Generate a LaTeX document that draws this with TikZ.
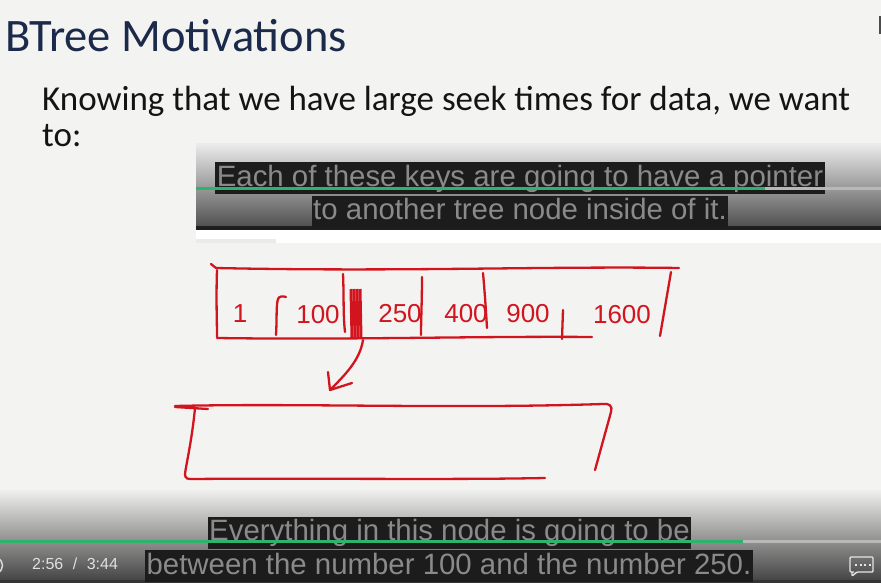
\documentclass[tikz,border=0pt]{standalone}
\usepackage{fontspec}
\setmainfont{Carlito}
\newfontfamily\subfont{Liberation Sans}
\definecolor{bg}{HTML}{F3F4F2}
\definecolor{titleblue}{HTML}{1B2A4A}
\definecolor{ink}{HTML}{D2141E}
\definecolor{subbg}{HTML}{1C1C1C}
\definecolor{subfg}{HTML}{8A8A8A}
\definecolor{ytgreen}{HTML}{2DB36C}
\definecolor{ytgray}{HTML}{B8B8B8}
\begin{document}
\begin{tikzpicture}[x=1pt,y=-1pt,
  sub/.style={fill=subbg, text=subfg, inner xsep=1.5pt, inner ysep=0pt,
    text height=24pt, text depth=8pt, font=\subfont\fontsize{29.4}{30}\selectfont},
  pen/.style={draw=ink, line width=2.3pt, line cap=round, line join=round},
  digits/.style={text=ink, inner sep=0pt, font=\subfont\fontsize{26}{26}\selectfont}]
\useasboundingbox (0,0) rectangle (881,583);
\fill[bg] (0,0) rectangle (881,583);
% title and body
\node[anchor=base west, inner sep=0pt, text=titleblue, font=\fontsize{46.5}{46.5}\selectfont] (title) at (5,52) {BTree Motivations};
\node[anchor=base west, inner sep=0pt, text=black!92, font=\fontsize{35}{37}\selectfont] (body1) at (42,111) {Knowing that we have large seek times for data, we want};
\node[anchor=base west, inner sep=0pt, text=black!92, font=\fontsize{35}{37}\selectfont] (body2) at (42,147) {to:};
\fill[black!70] (879,16) rectangle (881,34);
% top overlay (picture in picture)
\shade[top color=black!8, bottom color=black!68] (196,144) rectangle (881,226);
\fill[black!88] (196,226) rectangle (881,230);
\fill[white] (196,230) rectangle (881,243);
\fill[black!8] (196,239) rectangle (276,243);
\node[sub] (s1) at (520,178) {Each of these keys are going to have a pointer};
\node[sub] (s2) at (520,211.5) {to another tree node inside of it.};
\fill[ytgreen] (196,187) rectangle (765,190);
\fill[ytgray] (765,187) rectangle (881,190);
% handwritten top node
\draw[pen] (211,264) -- (216,268);
\draw[pen] (216,268) .. controls (400,272) and (550,266) .. (679,268);
\draw[pen] (217,270) .. controls (216,300) and (217,320) .. (217,337);
\draw[pen] (217,338) .. controls (350,340) and (480,336) .. (592,337);
\draw[pen] (671,272) -- (660,336);
\draw[pen] (276,335) .. controls (277,320) and (276,305) .. (278,299) .. controls (279,296) and (283,296) .. (286,297);
\draw[pen] (343,274) .. controls (344,295) and (343,315) .. (345,332);
\draw[pen] (422,277) .. controls (422,300) and (421,320) .. (421,335);
\draw[pen] (483,273) .. controls (485,295) and (486,312) .. (487,328);
\draw[pen] (563,310) -- (562,339);
\foreach \xx in {351,354,357,360}
  \draw[draw=ink, line width=3pt] (\xx,289) -- (\xx+1,338);
\node[digits] (k1) at (240,314) {1};
\node[digits] (k2) at (318,315) {100};
\node[digits] (k3) at (400,314) {250};
\node[digits] (k4) at (466,314) {400};
\node[digits] (k5) at (528,314) {900};
\node[digits] (k6) at (622,315) {1600};
% arrow
\coordinate (astart) at (363,340);
\coordinate (atip) at (330,390);
\draw[pen] (astart) .. controls (360,360) and (345,375) .. (atip);
\draw[pen] (328,372) -- (atip) -- (352,383);
% lower node
\draw[pen] (175,407) -- (208,409);
\draw[pen] (175,406) .. controls (300,403) and (450,409) .. (603,404) .. controls (609,403) and (613,406) .. (611,412) -- (595,470);
\draw[pen] (195,408) .. controls (192,440) and (186,465) .. (185,474) .. controls (185,479) and (188,479) .. (192,479) .. controls (300,478) and (450,480) .. (545,478);
% bottom player bar
\shade[top color=bg, bottom color=black!75] (0,488) rectangle (881,583);
\fill[black!80] (0,580) rectangle (881,583);
\node[sub] (b1) at (449.5,532.5) {Everything in this node is going to be};
\node[sub] (b2) at (449,566) {between the number 100 and the number 250.};
\fill[ytgreen] (0,540) rectangle (743,543);
\fill[ytgray] (743,540) rectangle (881,543);
\node[anchor=base west, inner sep=0pt, text=white!88!black, font=\subfont\fontsize{16}{16}\selectfont] (time) at (32,569) {2:56\hspace{9.5pt}/\hspace{9.5pt}3:44};
\draw[white!85!black, line width=1.5pt] (-2,558) .. controls (4,562) and (4,569) .. (-2,573);
\draw[white!90!black, line width=1.4pt, rounded corners=1pt] (854,572) -- (850,572) -- (850,557) -- (873,557) -- (873,572) -- (857,572) -- (852,576) -- (852,572);
\foreach \dx in {856,860.5,865,869.5}
  \fill[white!90!black] (\dx-1,563.5) rectangle (\dx+1,565.5);
\end{tikzpicture}
\end{document}
